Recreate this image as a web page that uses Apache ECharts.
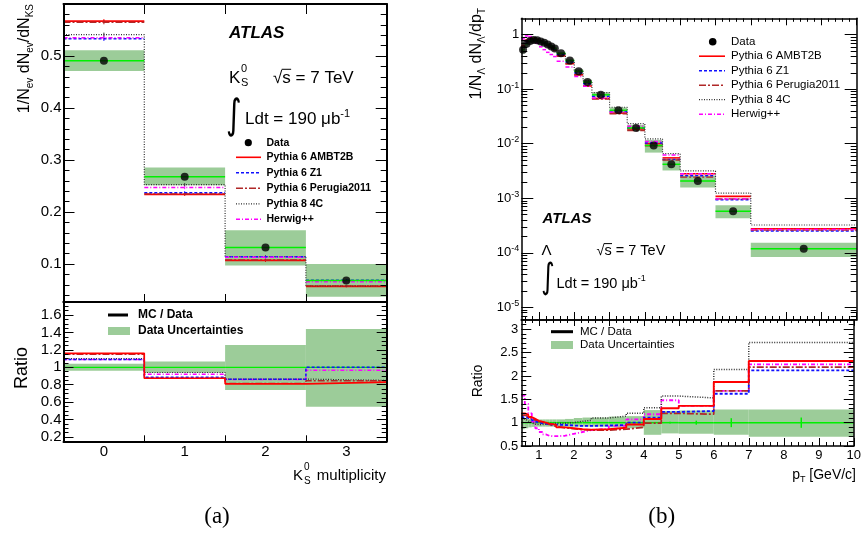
<!DOCTYPE html>
<html>
<head>
<meta charset="utf-8">
<title>ATLAS K0S multiplicity and Lambda pT spectrum</title>
<script src="https://cdn.jsdelivr.net/npm/echarts@6/dist/echarts.min.js"></script>
<style>
  html, body { margin: 0; padding: 0; background: #fff; }
  #chart { width: 864px; height: 535px; }
</style>
</head>
<body>
<div id="chart"></div>
<script>
// ===== (a) K0S multiplicity per event =====
const ksMultiplicity = [0, 1, 2, 3];
const ksData    = [0.491, 0.268, 0.132, 0.0685];
const ksUncLo   = [0.471, 0.2515, 0.097, 0.037];
const ksUncHi   = [0.511, 0.2856, 0.165, 0.100];
const ksAMBT2B  = [0.567, 0.234, 0.107, 0.057];
const ksZ1      = [0.533, 0.237, 0.114, 0.069];
const ksPerugia = [0.565, 0.235, 0.108, 0.058];
const ksP8      = [0.541, 0.2525, 0.114, 0.058];
const ksHerwig  = [0.535, 0.247, 0.113, 0.066];
const ksMCStat  = [0.004, 0.003, 0.003, 0.002];
// MC / Data
const ksRatioUncLo   = [0.959, 0.938, 0.74, 0.547];
const ksRatioUncHi   = [1.041, 1.066, 1.256, 1.44];
const ksRatioAMBT2B  = [1.16, 0.874, 0.81, 0.83];
const ksRatioZ1      = [1.09, 0.885, 0.862, 1.0];
const ksRatioPerugia = [1.15, 0.876, 0.815, 0.845];
const ksRatioP8      = [1.10, 0.94, 0.865, 0.85];
const ksRatioHerwig  = [1.09, 0.92, 0.86, 0.965];

// ===== (b) Lambda transverse momentum spectrum =====
const lamEdges = [0.5, 0.6, 0.7, 0.8, 0.9, 1.0, 1.1, 1.2, 1.3, 1.4, 1.5, 1.75, 2.0, 2.25, 2.5, 3.0, 3.5, 4.0, 4.5, 5.0, 6.0, 7.0, 10.0];
const lamData = [0.53, 0.68, 0.77, 0.80, 0.79, 0.75, 0.71, 0.66, 0.61, 0.56, 0.455, 0.335, 0.214, 0.135, 0.079, 0.041, 0.0195, 0.0093, 0.0042, 0.00207, 0.00058, 0.000119];
// relative data uncertainty (up / down) and statistical error
const lamUncUp = [0.10, 0.09, 0.08, 0.07, 0.07, 0.07, 0.07, 0.07, 0.07, 0.07, 0.07, 0.08, 0.10, 0.11, 0.11, 0.13, 0.14, 0.27, 0.25, 0.26, 0.28, 0.28];
const lamUncDn = [0.14, 0.12, 0.10, 0.09, 0.085, 0.085, 0.085, 0.085, 0.085, 0.085, 0.085, 0.085, 0.085, 0.085, 0.085, 0.10, 0.12, 0.26, 0.23, 0.24, 0.26, 0.30];
const lamStat  = [0.005, 0.005, 0.005, 0.005, 0.005, 0.005, 0.005, 0.005, 0.005, 0.005, 0.005, 0.005, 0.005, 0.005, 0.005, 0.006, 0.008, 0.01, 0.02, 0.043, 0.096, 0.11];
// MC / Data
const lamRatioAMBT2B  = [1.20, 1.17, 1.12, 1.08, 1.04, 1.02, 1.00, 0.98, 0.97, 0.95, 0.90, 0.88, 0.86, 0.85, 0.86, 0.89, 0.96, 1.08, 1.31, 1.36, 1.87, 2.32];
const lamRatioZ1      = [1.12, 1.10, 1.06, 1.03, 1.00, 0.99, 0.98, 0.97, 0.96, 0.96, 0.95, 0.94, 0.93, 0.93, 0.94, 0.95, 1.00, 1.11, 1.23, 1.25, 1.62, 2.12];
const lamRatioPerugia = [1.16, 1.13, 1.09, 1.05, 1.02, 1.00, 0.98, 0.96, 0.94, 0.92, 0.89, 0.87, 0.85, 0.84, 0.84, 0.86, 0.90, 0.99, 1.20, 1.18, 1.68, 2.19];
const lamRatioP8      = [1.08, 1.04, 1.00, 0.97, 0.96, 0.96, 0.97, 0.98, 0.98, 0.99, 0.99, 1.00, 1.03, 1.05, 1.10, 1.14, 1.20, 1.32, 1.57, 1.53, 2.14, 2.72];
const lamRatioHerwig  = [1.58, 1.40, 1.20, 1.02, 0.88, 0.80, 0.75, 0.72, 0.71, 0.71, 0.72, 0.76, 0.80, 0.84, 0.87, 0.93, 1.07, 1.18, 1.48, 1.36, 1.68, 2.25];

// ===== tick labels =====
const ksYTickValues      = [0.1, 0.2, 0.3, 0.4, 0.5];
const ksRatioTickValues  = [0.2, 0.4, 0.6, 0.8, 1, 1.2, 1.4, 1.6];
const lamXTickValues     = [1, 2, 3, 4, 5, 6, 7, 8, 9, 10];
const lamLogDecades      = [-5, -4, -3, -2, -1, 0];
const lamRatioTickValues = [0.5, 1, 1.5, 2, 2.5, 3];

// ===== style =====
const FONT = '"Liberation Sans", Arial, Helvetica, sans-serif';
const SERIF = '"Liberation Serif", "Times New Roman", serif';
const BAND = '#9ccc99';
const GREEN = '#00f000';
const MC = [
  { label: 'Pythia 6 AMBT2B',      color: '#ff0000', dash: 'solid',      width: 1.6, ks: ksAMBT2B,  ksR: ksRatioAMBT2B,  lamR: lamRatioAMBT2B },
  { label: 'Pythia 6 Z1',          color: '#1010ff', dash: [3, 2],       width: 1.5, ks: ksZ1,      ksR: ksRatioZ1,      lamR: lamRatioZ1 },
  { label: 'Pythia 6 Perugia2011', color: '#b02828', dash: [7, 2, 2, 2], width: 1.4, ks: ksPerugia, ksR: ksRatioPerugia, lamR: lamRatioPerugia },
  { label: 'Pythia 8 4C',          color: '#303030', dash: [1, 1.5],     width: 1.2, ks: ksP8,      ksR: ksRatioP8,      lamR: lamRatioP8, steps: true },
  { label: 'Herwig++',             color: '#ff00ff', dash: [4, 2, 1, 2], width: 1.5, ks: ksHerwig,  ksR: ksRatioHerwig,  lamR: lamRatioHerwig }
];

// ===== axis ranges =====
const ksXRange = [-0.5, 3.5];
const ksYRange = [0.027, 0.6];
const ksRatioRange = [0.15, 1.75];
const lamXRange = [0.5, 10];
const lamYRange = [5.85e-6, 2];
const lamRatioRange = [0.5, 3.2];
const lg = Math.log10;
const lamLogRange = [lg(lamYRange[0]), lg(lamYRange[1])];

// bin edges of (a)
const ksLo = ksMultiplicity.map(m => m - 0.5);
const ksHi = ksMultiplicity.map(m => m + 0.5);
const ksEdges = ksLo.concat([ksHi[ksHi.length - 1]]);
const ksInnerEdges = ksHi.slice(0, -1);
const lamCentres = lamData.map((_, i) => (lamEdges[i] + lamEdges[i + 1]) / 2);

// minor tick positions
function minorList(from, to, step, every) {
  const out = [];
  for (let k = from; k <= to; k++) if (k % every !== 0) out.push(+(k * step).toFixed(4));
  return out;
}
const ksYMinor = minorList(2, 29, 0.02, 5);
const ksRatioMinor = minorList(4, 34, 0.05, 4);
const lamXMinor = minorList(3, 49, 0.2, 5);
const lamRatioMinor = minorList(6, 31, 0.1, 5);
const lamLogMinor = [];
for (let n = -6; n <= 0; n++) for (let k = 2; k <= 9; k++) {
  const v = lg(k) + n;
  if (v > lamLogRange[0] && v < lamLogRange[1]) lamLogMinor.push(v);
}

// ===== axes =====
const xAxis = [], yAxis = [];
function addAxis(list, gridIndex, position, range, o) {
  const ax = {
    type: 'value', gridIndex, position, min: range[0], max: range[1], z: 10, silent: true,
    axisLine: { show: !!o.line, onZero: false, lineStyle: { color: '#000', width: o.line || 1 } },
    axisTick: { show: !!o.ticks, inside: true, length: o.len || 5, lineStyle: { color: '#000', width: 1 } },
    axisLabel: { show: false },
    splitLine: { show: false }, splitArea: { show: false },
    minorTick: { show: false }, minorSplitLine: { show: false }
  };
  if (o.ticks) ax.axisTick.customValues = o.ticks;
  if (o.labels) {
    ax.axisLabel = Object.assign({
      show: true, customValues: o.labels, color: '#000', fontFamily: FONT, fontSize: 14, margin: 3
    }, o.label || {});
  }
  list.push(ax);
  return list.length - 1;
}

// (a) upper panel, grid 0
const xA = addAxis(xAxis, 0, 'bottom', ksXRange, { line: 2, ticks: ksInnerEdges, len: 8 });
addAxis(xAxis, 0, 'top', ksXRange, { line: 2, ticks: ksInnerEdges, len: 10 });
const yA = addAxis(yAxis, 0, 'left', ksYRange, { line: 2, ticks: ksYTickValues, len: 11, labels: ksYTickValues, label: { fontSize: 15, margin: 2 } });
addAxis(yAxis, 0, 'left', ksYRange, { ticks: ksYMinor, len: 6 });
addAxis(yAxis, 0, 'right', ksYRange, { line: 2, ticks: ksYTickValues, len: 11 });
addAxis(yAxis, 0, 'right', ksYRange, { ticks: ksYMinor, len: 6 });
// (a) ratio panel, grid 1
const xAR = addAxis(xAxis, 1, 'bottom', ksXRange, { line: 2, ticks: ksInnerEdges, len: 6, labels: ksMultiplicity, label: { fontSize: 15, margin: 3 } });
addAxis(xAxis, 1, 'top', ksXRange, { line: 2 });
const yAR = addAxis(yAxis, 1, 'left', ksRatioRange, { line: 2, ticks: ksRatioTickValues, len: 10, labels: ksRatioTickValues, label: { fontSize: 15, margin: 2 } });
addAxis(yAxis, 1, 'left', ksRatioRange, { ticks: ksRatioMinor, len: 5 });
addAxis(yAxis, 1, 'right', ksRatioRange, { line: 2, ticks: ksRatioTickValues, len: 10 });
addAxis(yAxis, 1, 'right', ksRatioRange, { ticks: ksRatioMinor, len: 5 });
// (b) upper panel, grid 2 (log10 scale)
const xB = addAxis(xAxis, 2, 'bottom', lamXRange, { line: 1.5, ticks: lamXTickValues, len: 8 });
addAxis(xAxis, 2, 'bottom', lamXRange, { ticks: lamXMinor, len: 4 });
addAxis(xAxis, 2, 'top', lamXRange, { line: 1.5, ticks: lamXTickValues, len: 7 });
addAxis(xAxis, 2, 'top', lamXRange, { ticks: lamXMinor, len: 3.5 });
const logLabel = {
  fontSize: 13, margin: 2, lineHeight: 17,
  formatter: v => (Math.round(v) === 0 ? '1' : '10{sup|' + Math.round(v) + '}'),
  rich: { sup: { fontSize: 9, lineHeight: 9, verticalAlign: 'top', fontFamily: FONT, color: '#000' } }
};
const yB = addAxis(yAxis, 2, 'left', lamLogRange, { line: 1.5, ticks: lamLogDecades, len: 12, labels: lamLogDecades, label: logLabel });
addAxis(yAxis, 2, 'left', lamLogRange, { ticks: lamLogMinor, len: 6 });
addAxis(yAxis, 2, 'right', lamLogRange, { line: 1.5, ticks: lamLogDecades, len: 12 });
addAxis(yAxis, 2, 'right', lamLogRange, { ticks: lamLogMinor, len: 6 });
// (b) ratio panel, grid 3
const xBR = addAxis(xAxis, 3, 'bottom', lamXRange, { line: 1.5, ticks: lamXTickValues, len: 8, labels: lamXTickValues, label: { fontSize: 13, margin: 3 } });
addAxis(xAxis, 3, 'bottom', lamXRange, { ticks: lamXMinor, len: 4 });
addAxis(xAxis, 3, 'top', lamXRange, { line: 1.5, ticks: lamXTickValues, len: 6 });
addAxis(xAxis, 3, 'top', lamXRange, { ticks: lamXMinor, len: 3 });
const yBR = addAxis(yAxis, 3, 'left', lamRatioRange, { line: 1.5, ticks: lamRatioTickValues, len: 10, labels: lamRatioTickValues, label: { fontSize: 13, margin: 3 } });
addAxis(yAxis, 3, 'left', lamRatioRange, { ticks: lamRatioMinor, len: 5 });
addAxis(yAxis, 3, 'right', lamRatioRange, { line: 1.5, ticks: lamRatioTickValues, len: 10 });
addAxis(yAxis, 3, 'right', lamRatioRange, { ticks: lamRatioMinor, len: 5 });

// ===== series helpers =====
function bandSeries(xi, yi, data) {
  return {
    type: 'custom', xAxisIndex: xi, yAxisIndex: yi, z: 1, silent: true, data,
    encode: { x: [0, 1], y: [2, 3] },
    renderItem: (p, api) => {
      const a = api.coord([api.value(0), api.value(3)]);
      const b = api.coord([api.value(1), api.value(2)]);
      return { type: 'rect', shape: { x: a[0], y: a[1], width: b[0] - a[0], height: b[1] - a[1] }, style: { fill: BAND } };
    }
  };
}
function segSeries(xi, yi, data, color, width, dash, z) {
  return {
    type: 'custom', xAxisIndex: xi, yAxisIndex: yi, z, silent: true, data,
    encode: { x: [0, 1], y: 2 },
    renderItem: (p, api) => {
      const a = api.coord([api.value(0), api.value(2)]);
      const b = api.coord([api.value(1), api.value(2)]);
      return { type: 'line', shape: { x1: a[0], y1: a[1], x2: b[0], y2: b[1] },
        style: { stroke: color, lineWidth: width, lineDash: dash === 'solid' ? null : dash, fill: null } };
    }
  };
}
function barSeries(xi, yi, data, color, width, z) {
  return {
    type: 'custom', xAxisIndex: xi, yAxisIndex: yi, z, silent: true, data,
    encode: { x: 0, y: [1, 2] },
    renderItem: (p, api) => {
      const a = api.coord([api.value(0), api.value(1)]);
      const b = api.coord([api.value(0), api.value(2)]);
      return { type: 'line', shape: { x1: a[0], y1: a[1], x2: b[0], y2: b[1] }, style: { stroke: color, lineWidth: width } };
    }
  };
}
function stepSeries(xi, yi, edges, vals, color, width, dash, z) {
  const pts = [];
  vals.forEach((v, i) => { pts.push([edges[i], v], [edges[i + 1], v]); });
  return {
    type: 'line', xAxisIndex: xi, yAxisIndex: yi, z, silent: true, data: pts,
    symbol: 'none', showSymbol: false, lineStyle: { color, width, type: dash }
  };
}

const series = [];
// ---- (a) upper ----
series.push(bandSeries(xA, yA, ksMultiplicity.map((m, i) => [ksLo[i], ksHi[i], ksUncLo[i], ksUncHi[i]])));
MC.forEach((mc, k) => {
  if (mc.steps) series.push(stepSeries(xA, yA, ksEdges, mc.ks, mc.color, mc.width, mc.dash, 3));
  else series.push(segSeries(xA, yA, ksMultiplicity.map((m, i) => [ksLo[i], ksHi[i], mc.ks[i]]), mc.color, mc.width, mc.dash, 3 + k * 0.01));
  series.push(barSeries(xA, yA, ksMultiplicity.map((m, i) => [m, mc.ks[i] - ksMCStat[i], mc.ks[i] + ksMCStat[i]]), mc.color, 1, 3));
});
series.push(segSeries(xA, yA, ksMultiplicity.map((m, i) => [ksLo[i], ksHi[i], ksData[i]]), GREEN, 1.5, 'solid', 4));
series.push({
  type: 'scatter', xAxisIndex: xA, yAxisIndex: yA, z: 5, silent: true, symbolSize: 8,
  itemStyle: { color: '#000' }, data: ksMultiplicity.map((m, i) => [m, ksData[i]])
});
// ---- (a) ratio ----
series.push(bandSeries(xAR, yAR, ksMultiplicity.map((m, i) => [ksLo[i], ksHi[i], ksRatioUncLo[i], ksRatioUncHi[i]])));
series.push(segSeries(xAR, yAR, ksMultiplicity.map((m, i) => [ksLo[i], ksHi[i], 1]), GREEN, 1.2, 'solid', 2));
MC.slice().reverse().forEach((mc, k) => {
  series.push(stepSeries(xAR, yAR, ksEdges, mc.ksR, mc.color, mc.width, mc.dash, 3 + k * 0.01));
});
// ---- (b) upper, values on log10 scale; MC spectra = data × (MC/data) ----
series.push(bandSeries(xB, yB, lamData.map((d, i) => [lamEdges[i], lamEdges[i + 1], lg(d * (1 - lamUncDn[i])), lg(d * (1 + lamUncUp[i]))])));
MC.forEach((mc, k) => {
  const vals = lamData.map((d, i) => lg(d * mc.lamR[i]));
  if (mc.steps) series.push(stepSeries(xB, yB, lamEdges, vals, mc.color, mc.width, mc.dash, 3));
  else series.push(segSeries(xB, yB, vals.map((v, i) => [lamEdges[i], lamEdges[i + 1], v]), mc.color, mc.width, mc.dash, 3 + k * 0.01));
});
series.push(segSeries(xB, yB, lamData.map((d, i) => [lamEdges[i], lamEdges[i + 1], lg(d)]), GREEN, 1.5, 'solid', 4));
series.push({
  type: 'scatter', xAxisIndex: xB, yAxisIndex: yB, z: 5, silent: true, symbolSize: 8,
  itemStyle: { color: '#000' }, data: lamData.map((d, i) => [lamCentres[i], lg(d)])
});
// ---- (b) ratio ----
series.push(bandSeries(xBR, yBR, lamData.map((d, i) => [lamEdges[i], lamEdges[i + 1], 1 - lamUncDn[i], 1 + lamUncUp[i]])));
series.push(segSeries(xBR, yBR, lamData.map((d, i) => [lamEdges[i], lamEdges[i + 1], 1]), GREEN, 1.5, 'solid', 2));
series.push(barSeries(xBR, yBR, lamData.map((d, i) => [lamCentres[i], 1 - lamStat[i], 1 + lamStat[i]]), GREEN, 1.5, 2));
MC.slice().reverse().forEach((mc, k) => {
  series.push(stepSeries(xBR, yBR, lamEdges, mc.lamR, mc.color, mc.width + 0.3, mc.dash, 3 + k * 0.01));
});

// ===== text & legends =====
function txt(x, y, text, o = {}) {
  const size = o.size || 14;
  const fam = o.family || FONT;
  const sub = { fontSize: Math.round(size * 0.65), lineHeight: Math.round(size * 0.65), verticalAlign: 'bottom', fontFamily: fam, fill: '#000', fontWeight: o.weight || 'normal' };
  const sup = { fontSize: Math.round(size * 0.65), lineHeight: Math.round(size * 0.65), verticalAlign: 'top', fontFamily: fam, fill: '#000', fontWeight: o.weight || 'normal' };
  return {
    type: 'text', x, y, rotation: o.rot || 0, scaleY: o.scaleY || 1, silent: true, z: 100,
    style: {
      text, fill: '#000', fontFamily: fam, fontSize: size, lineHeight: Math.round(size * 1.3),
      fontWeight: o.weight || 'normal', fontStyle: o.italic ? 'italic' : 'normal',
      align: o.align || 'left', verticalAlign: o.va || 'middle', rich: { sub, sup }
    }
  };
}
function seg(x1, y1, x2, y2, color, width, dash) {
  return { type: 'line', silent: true, z: 100, shape: { x1, y1, x2, y2 },
    style: { stroke: color, lineWidth: width, lineDash: dash === 'solid' ? null : dash } };
}
// bar over the "s" of √s, placed from the measured glyph widths
const measure = document.createElement('canvas').getContext('2d');
function sqrtBar(x, y, size) {
  measure.font = size + 'px ' + FONT;
  measure.textBaseline = 'middle';
  const root = measure.measureText('√');
  const ws = measure.measureText('s').width;
  const top = y - root.actualBoundingBoxAscent + 0.6;
  return seg(x + root.width - 0.6, top, x + root.width + ws + 0.3, top, '#000', 1, 'solid');
}
const g = [];
// --- (a) ---
g.push(txt(25, 4, '1/N{sub|ev} dN{sub|ev}/dN{sub|KS}', { size: 16, rot: Math.PI / 2, align: 'right' }));
g.push(txt(22, 368, 'Ratio', { size: 18, rot: Math.PI / 2, align: 'center' }));
g.push(txt(229, 33, 'ATLAS', { size: 17, weight: 'bold', italic: true }));
g.push(txt(229, 78, 'K', { size: 17 }));
g.push(txt(241, 69, '0', { size: 11 }));
g.push(txt(241, 83, 'S', { size: 11 }));
g.push(txt(273, 78, '√s = 7 TeV', { size: 17 }));
g.push(sqrtBar(273, 78, 17));
g.push(txt(226, 117, '∫', { size: 30, family: '"DejaVu Sans", sans-serif', scaleY: 1.35 }));
g.push(txt(245, 119, 'Ldt = 190 μb{sup|-1}', { size: 17 }));
g.push({ type: 'circle', silent: true, z: 100, shape: { cx: 248.3, cy: 142.7, r: 3.6 }, style: { fill: '#000' } });
g.push(txt(266.5, 142.7, 'Data', { size: 10.5, weight: 'bold' }));
MC.forEach((mc, k) => {
  const y = 157.3 + k * 15.5;
  g.push(seg(236, y, 261, y, mc.color, mc.width, mc.dash));
  g.push(txt(266.5, y, mc.label, { size: 10.5, weight: 'bold' }));
});
g.push(seg(108, 315, 128, 315, '#000', 3, 'solid'));
g.push(txt(138, 315, 'MC / Data', { size: 12, weight: 'bold' }));
g.push({ type: 'rect', silent: true, z: 100, shape: { x: 108, y: 327, width: 22, height: 8 }, style: { fill: BAND } });
g.push(txt(138, 331, 'Data Uncertainties', { size: 12, weight: 'bold' }));
g.push(txt(293, 476, 'K', { size: 15 }));
g.push(txt(304, 467, '0', { size: 10 }));
g.push(txt(304, 481, 'S', { size: 10 }));
g.push(txt(386, 476, 'multiplicity', { size: 15, align: 'right' }));
g.push(txt(217, 517, '(a)', { size: 23, family: SERIF, align: 'center' }));
// --- (b) ---
g.push(txt(477, 8, '1/N{sub|Λ} dN{sub|Λ}/dp{sub|T}', { size: 16, rot: Math.PI / 2, align: 'right' }));
g.push(txt(478, 381, 'Ratio', { size: 14, rot: Math.PI / 2, align: 'center' }));
g.push(txt(542.5, 219, 'ATLAS', { size: 15, weight: 'bold', italic: true }));
g.push(txt(541.5, 251, 'Λ', { size: 15 }));
g.push(txt(596.5, 251, '√s = 7 TeV', { size: 14.5 }));
g.push(sqrtBar(596.5, 251, 14.5));
g.push(txt(541, 279, '∫', { size: 26, family: '"DejaVu Sans", sans-serif', scaleY: 1.35 }));
g.push(txt(556.5, 284, 'Ldt = 190 μb{sup|-1}', { size: 14.5 }));
g.push({ type: 'circle', silent: true, z: 100, shape: { cx: 712.7, cy: 41.7, r: 3.8 }, style: { fill: '#000' } });
g.push(txt(731, 41.7, 'Data', { size: 11.5 }));
MC.forEach((mc, k) => {
  const y = 56.2 + k * 14.5;
  g.push(seg(699, y, 725, y, mc.color, mc.width, mc.dash));
  g.push(txt(731, y, mc.label, { size: 11.5 }));
});
g.push(seg(551, 331.7, 573, 331.7, '#000', 3, 'solid'));
g.push(txt(580, 331.7, 'MC / Data', { size: 11.5 }));
g.push({ type: 'rect', silent: true, z: 100, shape: { x: 551, y: 341, width: 22, height: 8 }, style: { fill: BAND } });
g.push(txt(580, 345, 'Data Uncertainties', { size: 11.5 }));
g.push(txt(856, 475, 'p{sub|T} [GeV/c]', { size: 14, align: 'right' }));
g.push(txt(661.7, 517, '(b)', { size: 23, family: SERIF, align: 'center' }));

const option = {
  animation: false,
  backgroundColor: '#fff',
  textStyle: { fontFamily: FONT },
  grid: [
    { left: 63.5, top: 4, width: 323.2, height: 298 },
    { left: 63.5, top: 302, width: 323.2, height: 139.3 },
    { left: 521.3, top: 18.3, width: 335.4, height: 301.7 },
    { left: 521.3, top: 320, width: 335.4, height: 126 }
  ],
  xAxis, yAxis, series,
  graphic: { elements: g }
};

const chart = echarts.init(document.getElementById('chart'), null, { renderer: 'canvas' });
chart.setOption(option);
</script>
</body>
</html>
